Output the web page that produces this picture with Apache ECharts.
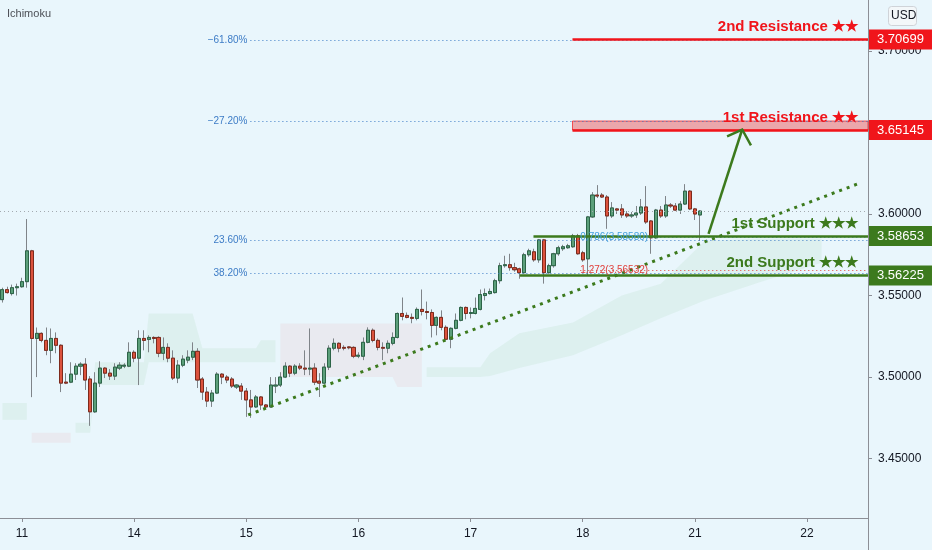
<!DOCTYPE html>
<html><head><meta charset="utf-8">
<script src="https://cdn.jsdelivr.net/npm/echarts@6/dist/echarts.min.js"></script>
<style>html,body{margin:0;padding:0;background:#e9f6fc}#c{width:932px;height:550px}</style>
</head><body><div id="c"></div>
<script>
// ---------- data ----------
const dayLabels = ['11', '14', '15', '16', '17', '18', '21', '22'];
const dayStartSlot = [4, 27, 50, 73, 96, 119, 142, 165];
const slotCount = 178;

// hourly candles: [open, close, low, high]
const candles = [
[3.5475,3.5536,3.5457,3.5548],[3.5536,3.5518,3.5512,3.5554],[3.5512,3.5548,3.5500,3.5567],[3.5548,3.5554,3.5500,3.5573],
[3.5554,3.5585,3.5548,3.5609],[3.5585,3.5774,3.5548,3.5969],[3.5774,3.5237,3.4877,3.5780],[3.5237,3.5268,3.5000,3.5304],
[3.5268,3.5225,3.5213,3.5274],[3.5225,3.5164,3.5134,3.5304],[3.5164,3.5237,3.5085,3.5298],[3.5237,3.5195,3.5146,3.5274],
[3.5195,3.4963,3.4908,3.5201],[3.4969,3.4963,3.4957,3.5024],[3.4969,3.5018,3.4963,3.5091],[3.5018,3.5067,3.4982,3.5085],
[3.5067,3.5079,3.5012,3.5091],[3.5079,3.4982,3.4921,3.5116],[3.4988,3.4787,3.4701,3.5006],[3.4787,3.4963,3.4781,3.5030],
[3.4963,3.5055,3.4939,3.5097],[3.5055,3.5024,3.4994,3.5061],[3.5024,3.5006,3.4982,3.5049],[3.5006,3.5061,3.4982,3.5085],
[3.5055,3.5073,3.5043,3.5091],[3.5067,3.5073,3.5055,3.5085],[3.5067,3.5152,3.5061,3.5213],[3.5152,3.5116,3.5091,3.5164],
[3.5116,3.5237,3.4951,3.5287],[3.5237,3.5225,3.5164,3.5287],[3.5231,3.5243,3.5152,3.5256],[3.5243,3.5237,3.5207,3.5250],
[3.5243,3.5146,3.5122,3.5250],[3.5146,3.5182,3.5104,3.5243],[3.5182,3.5116,3.5091,3.5207],[3.5116,3.4994,3.4982,3.5164],
[3.4994,3.5073,3.4963,3.5104],[3.5073,3.5110,3.5061,3.5134],[3.5104,3.5122,3.5085,3.5164],[3.5122,3.5158,3.5104,3.5213],
[3.5158,3.4982,3.4933,3.5177],[3.4988,3.4908,3.4860,3.5000],[3.4908,3.4853,3.4817,3.4939],[3.4853,3.4902,3.4817,3.4921],
[3.4902,3.5018,3.4896,3.5030],[3.5018,3.5000,3.4957,3.5024],[3.5000,3.4982,3.4963,3.5012],[3.4988,3.4945,3.4933,3.5000],
[3.4939,3.4951,3.4927,3.4957],[3.4945,3.4914,3.4860,3.4963],[3.4914,3.4860,3.4756,3.4933],[3.4860,3.4817,3.4750,3.4921],
[3.4817,3.4878,3.4811,3.4890],[3.4878,3.4829,3.4799,3.4884],[3.4829,3.4817,3.4811,3.4835],[3.4817,3.4951,3.4811,3.5000],
[3.4945,3.4951,3.4902,3.5000],[3.4951,3.5000,3.4939,3.5030],[3.5000,3.5067,3.4994,3.5091],[3.5067,3.5024,3.5000,3.5073],
[3.5024,3.5067,3.5012,3.5079],[3.5067,3.5055,3.5043,3.5085],[3.5055,3.5049,3.5012,3.5164],[3.5049,3.5055,3.5012,3.5298],
[3.5055,3.4969,3.4951,3.5085],[3.4975,3.4963,3.4878,3.5024],[3.4963,3.5061,3.4957,3.5085],[3.5061,3.5177,3.5043,3.5195],
[3.5177,3.5207,3.5164,3.5237],[3.5207,3.5177,3.5152,3.5213],[3.5182,3.5177,3.5164,3.5195],[3.5185,3.5180,3.5170,3.5189],
[3.5182,3.5128,3.5116,3.5189],[3.5128,3.5134,3.5116,3.5152],[3.5128,3.5213,3.5104,3.5243],[3.5213,3.5287,3.5207,3.5305],
[3.5287,3.5225,3.5213,3.5298],[3.5225,3.5182,3.5164,3.5237],[3.5182,3.5177,3.5104,3.5213],[3.5177,3.5207,3.5146,3.5225],
[3.5207,3.5243,3.5195,3.5274],[3.5243,3.5390,3.5237,3.5396],[3.5390,3.5372,3.5348,3.5488],[3.5378,3.5366,3.5360,3.5396],
[3.5366,3.5360,3.5330,3.5390],[3.5360,3.5415,3.5348,3.5427],[3.5415,3.5402,3.5378,3.5537],[3.5402,3.5396,3.5354,3.5463],
[3.5396,3.5317,3.5243,3.5415],[3.5317,3.5366,3.5256,3.5372],[3.5366,3.5305,3.5287,3.5409],[3.5305,3.5232,3.5225,3.5317],
[3.5232,3.5299,3.5177,3.5305],[3.5299,3.5348,3.5293,3.5390],[3.5348,3.5427,3.5342,3.5433],[3.5427,3.5390,3.5354,3.5433],
[3.5390,3.5396,3.5360,3.5427],[3.5390,3.5421,3.5384,3.5488],[3.5415,3.5506,3.5409,3.5537],[3.5500,3.5512,3.5470,3.5543],
[3.5512,3.5525,3.5506,3.5543],[3.5518,3.5591,3.5512,3.5603],[3.5591,3.5683,3.5573,3.5701],[3.5683,3.5689,3.5671,3.5744],
[3.5689,3.5671,3.5652,3.5756],[3.5671,3.5658,3.5646,3.5701],[3.5664,3.5640,3.5603,3.5671],[3.5640,3.5750,3.5634,3.5762],
[3.5750,3.5774,3.5738,3.5787],[3.5768,3.5719,3.5707,3.5787],[3.5719,3.5841,3.5701,3.5847],[3.5841,3.5640,3.5573,3.5847],
[3.5640,3.5683,3.5634,3.5695],[3.5683,3.5756,3.5671,3.5762],[3.5756,3.5793,3.5744,3.5805],[3.5787,3.5799,3.5774,3.5811],
[3.5793,3.5805,3.5787,3.5817],[3.5799,3.5866,3.5793,3.5878],[3.5866,3.5756,3.5750,3.5878],[3.5762,3.5719,3.5707,3.5774],
[3.5725,3.5982,3.5622,3.5988],[3.5982,3.6116,3.5976,3.6134],[3.6116,3.6110,3.6098,3.6177],[3.6116,3.6104,3.6098,3.6128],
[3.6104,3.5988,3.5909,3.6116],[3.5988,3.6037,3.5976,3.6073],[3.6031,3.6024,3.6000,3.6037],[3.6031,3.5994,3.5976,3.6061],
[3.6000,3.5988,3.5976,3.6018],[3.5988,3.5994,3.5976,3.6012],[3.5994,3.6006,3.5976,3.6049],[3.6006,3.6043,3.5994,3.6092],
[3.6043,3.5951,3.5939,3.6171],[3.5957,3.5854,3.5756,3.5963],[3.5854,3.6024,3.5848,3.6031],[3.6024,3.5988,3.5976,3.6049],
[3.5988,3.6055,3.5976,3.6110],[3.6055,3.6049,3.6037,3.6067],[3.6049,3.6024,3.6018,3.6067],[3.6024,3.6061,3.6000,3.6079],
[3.6061,3.6140,3.6055,3.6183],[3.6140,3.6031,3.6024,3.6146],[3.6031,3.6000,3.5963,3.6037],[3.5994,3.6018,3.5835,3.6024]
];

// Ichimoku cloud (leading spans A and B), in slot units
const cloudSlot = [0,5,6,14,15,18,19,29,30,39,41,52,53,56,57,80,81,86,87,98,100,106,117,127,135,144,155,168];
const spanA = [3.4841,3.4841,3.4598,3.4598,3.4720,3.4720,3.5091,3.5091,3.5390,3.5390,3.5177,3.5177,3.5226,3.5226,
               3.5000,3.5000,3.4939,3.4939,3.5061,3.5061,3.5146,3.5268,3.5335,3.5500,3.5573,3.5835,3.5848,3.5848];
const spanB = [3.4738,3.4738,3.4659,3.4659,3.4659,3.4659,3.4951,3.4951,3.5091,3.5091,3.5091,3.5091,3.5091,3.5091,
               3.5329,3.5329,3.5329,3.5329,3.5000,3.5000,3.5006,3.5055,3.5134,3.5256,3.5360,3.5470,3.5579,3.5701];

// levels
const resistanceLabels = ['2nd Resistance ★★', '1st Resistance ★★'];
const resistanceValues = [3.70699, 3.65145];
const resistanceBandTop = 3.6570;
const resistanceStart = 116.9;
const supportLabels = ['1st Support ★★★', '2nd Support ★★★'];
const supportValues = [3.58653, 3.56225];
const supportStart = [108.9, 106.1];
const fibLabels = ['\u221261.80%', '\u221227.20%', '23.60%', '38.20%'];
const fibValues = [3.7067, 3.6570, 3.5841, 3.5638];
const fibStart = 50.85;
const extLabels = ['0.786(3.58580)', '1.272(3.56532)'];
const extValues = [3.58580, 3.56532];
const extStart = 118.5;
const trendSlots = [50.4, 175.8];
const trendValues = [3.4768, 3.6189];
const arrowSlots = [144.8, 151.7];
const arrowValues = [3.5878, 3.6518];
const arrowHeadSlots = [148.6, 151.7, 153.5];
const arrowHeadValues = [3.6476, 3.6518, 3.6421];

// ---------- chart ----------
const FONT = "'Liberation Sans', Arial, sans-serif";
const RED = '#f0151b', GREEN = '#3c7a1d', BLUE = '#3d7cc6', GRAY = '#8c8f96';
const categories = Array.from({length: slotCount}, (_, i) => {
  const k = dayStartSlot.indexOf(i); return k >= 0 ? dayLabels[k] : '';
});
const xEnd = slotCount - 0.5;
const isDay = (i) => dayStartSlot.indexOf(i) >= 0;

function hLine(x0, x1, v, lineStyle, label) {
  return [{coord: [x0, v], lineStyle: lineStyle, label: label}, {coord: [x1, v]}];
}

const fibData = fibValues.map((v, i) => hLine(fibStart, xEnd, v,
  {color: BLUE, width: 1, type: [1, 3]},
  {show: true, position: 'start', distance: 3, formatter: fibLabels[i], color: BLUE, fontSize: 10, fontFamily: FONT}));
const extColors = ['#45a0de', '#e0403c'];
const extData = extValues.map((v, i) => hLine(extStart, xEnd, v,
  {color: extColors[i], width: 1, type: [1, 3]},
  {show: true, position: 'insideStart', distance: [0, 0], formatter: extLabels[i], color: extColors[i], fontSize: 10, fontFamily: FONT}));
const lastPrice = candles[candles.length - 1][1];
const lastData = [hLine(-0.5, xEnd, lastPrice, {color: '#a4aab0', width: 1, type: [1, 3]}, {show: false})];

function levelLines(values, labels, starts, color) {
  const out = [];
  values.forEach((v, i) => {
    const s = Array.isArray(starts) ? starts[i] : starts;
    out.push(hLine(s, xEnd, v, {color: color, width: 2.5, type: 'solid', opacity: 1},
      {show: true, position: 'insideEndTop', distance: [10, 5], formatter: labels[i], color: color,
       fontSize: 15, fontWeight: 'bold', fontFamily: FONT}));
    out.push(hLine(s, xEnd, v, {color: 'rgba(0,0,0,0)', width: 0.01, opacity: 1},
      {show: true, position: 'end', distance: 1, formatter: v.toFixed(5), color: '#ffffff', backgroundColor: color,
       opacity: 1, padding: [3, 8, 3, 8], fontSize: 13, lineHeight: 14, fontFamily: FONT}));
  });
  return out;
}

const wickData = candles;
const bodyData = candles.map(c => [c[0], c[1], Math.min(c[0], c[1]), Math.max(c[0], c[1])]);

const chart = echarts.init(document.getElementById('c'), null, {renderer: 'canvas'});
chart.setOption({
  animation: false,
  backgroundColor: '#e9f6fc',
  textStyle: {fontFamily: FONT},
  grid: {left: -2, right: 64, top: 0, bottom: 32},
  xAxis: [{
    type: 'category', data: categories, boundaryGap: true,
    axisLine: {show: true, onZero: false, lineStyle: {color: GRAY}},
    axisTick: {show: true, alignWithLabel: true, length: 4, interval: (i) => isDay(i), lineStyle: {color: GRAY}},
    axisLabel: {interval: (i) => isDay(i), color: '#131722', fontSize: 12, margin: 10, fontFamily: FONT},
    splitLine: {show: false}
  }, {
    type: 'value', min: -0.5, max: xEnd, show: false, splitLine: {show: false},
    axisLine: {onZero: false}
  }],
  yAxis: {
    type: 'value', position: 'right', min: 3.4136, max: 3.7312, splitNumber: 6,
    splitLine: {show: false},
    axisLine: {show: true, onZero: false, lineStyle: {color: GRAY}},
    axisTick: {show: true, length: 4, lineStyle: {color: GRAY}},
    axisLabel: {
      showMinLabel: false, showMaxLabel: false, margin: 10, color: '#131722', fontSize: 12, fontFamily: FONT,
      formatter: (v) => { const k = Math.round(v * 20); if (Math.abs(v * 20 - k) > 1e-6 || k === 73) return ''; return v.toFixed(5); }
    }
  },
  series: [
    { // Ichimoku cloud
      type: 'custom', name: 'cloud', xAxisIndex: 1, yAxisIndex: 0, silent: true, z: 1,
      data: [[0, 3.5]],
      renderItem: function (params, api) {
        if (params.dataIndex !== 0) return null;
        const children = [];
        let k = 0;
        while (k < cloudSlot.length - 1) {
          const up = spanA[k] >= spanB[k];
          let j = k;
          while (j + 1 < cloudSlot.length && (spanA[j + 1] >= spanB[j + 1]) === up) j++;
          if (j > k) {
            const top = [], bot = [];
            for (let m = k; m <= j; m++) {
              top.push(api.coord([cloudSlot[m], spanA[m]]));
              bot.push(api.coord([cloudSlot[m], spanB[m]]));
            }
            children.push({type: 'polygon', shape: {points: top.concat(bot.reverse())},
              style: {fill: up ? 'rgba(76,175,80,0.075)' : 'rgba(239,83,80,0.07)'}});
          }
          k = j + 1;
        }
        return {type: 'group', children: children};
      }
    },
    { // fib levels
      type: 'line', name: 'fib', xAxisIndex: 1, data: [[0, 3.5]], symbol: 'none', silent: true, z: 1,
      lineStyle: {opacity: 0},
      markLine: {silent: true, symbol: ['none', 'none'], animation: false, data: fibData.concat(extData, lastData)}
    },
    { // wicks
      type: 'candlestick', name: 'wick', xAxisIndex: 0, data: wickData, barWidth: 3.6, z: 2, silent: true,
      itemStyle: {color: '#7f8489', color0: '#7f8489', borderColor: '#7f8489', borderColor0: '#7f8489', borderWidth: 1}
    },
    { // bodies
      type: 'candlestick', name: 'body', xAxisIndex: 0, data: bodyData, barWidth: 3.6, z: 3, silent: true,
      itemStyle: {color: '#5b9f7a', color0: '#dc523d', borderColor: '#2c6447', borderColor0: '#7d2a1c', borderWidth: 1}
    },
    { // trendline
      type: 'line', name: 'trend', xAxisIndex: 1, symbol: 'none', silent: true, z: 4,
      data: trendSlots.map((x, i) => [x, trendValues[i]]),
      lineStyle: {color: GREEN, width: 3, type: [3, 5]}
    },
    { // support / resistance
      type: 'line', name: 'levels', xAxisIndex: 1, data: [[0, 3.5]], symbol: 'none', silent: true, z: 5,
      lineStyle: {opacity: 0},
      markArea: {silent: true, itemStyle: {color: 'rgba(240,40,40,0.38)', borderColor: 'rgba(240,21,27,0.7)', borderWidth: 1},
        data: [[{coord: [resistanceStart, resistanceValues[1]]}, {coord: [xEnd, resistanceBandTop]}]]},
      markLine: {silent: true, symbol: ['none', 'none'], animation: false,
        data: levelLines(resistanceValues, resistanceLabels, resistanceStart, RED)
          .concat(levelLines(supportValues, supportLabels, supportStart, GREEN))}
    },
    { // arrow shaft
      type: 'line', name: 'arrow', xAxisIndex: 1, symbol: 'none', silent: true, z: 6,
      data: arrowSlots.map((x, i) => [x, arrowValues[i]]),
      lineStyle: {color: GREEN, width: 2.5}
    },
    { // arrow head
      type: 'line', name: 'arrowHead', xAxisIndex: 1, symbol: 'none', silent: true, z: 6,
      data: arrowHeadSlots.map((x, i) => [x, arrowHeadValues[i]]),
      lineStyle: {color: GREEN, width: 2.5, join: 'miter'}
    }
  ],
  graphic: [
    {type: 'text', left: 7, top: 8, style: {text: 'Ichimoku', fill: '#4d5057', fontSize: 11, fontFamily: FONT}},
    {type: 'rect', left: 888, top: 6, shape: {width: 28, height: 19, r: 3}, style: {fill: '#f3f7f9', stroke: '#cfd3d8', lineWidth: 1}},
    {type: 'text', left: 891, top: 10, style: {text: 'USD', fill: '#131722', fontSize: 12, fontFamily: FONT}},
    {type: 'line', shape: {x1: 868.5, y1: 518, x2: 868.5, y2: 550}, style: {stroke: GRAY, lineWidth: 1}}
  ]
});
</script>
</body></html>
